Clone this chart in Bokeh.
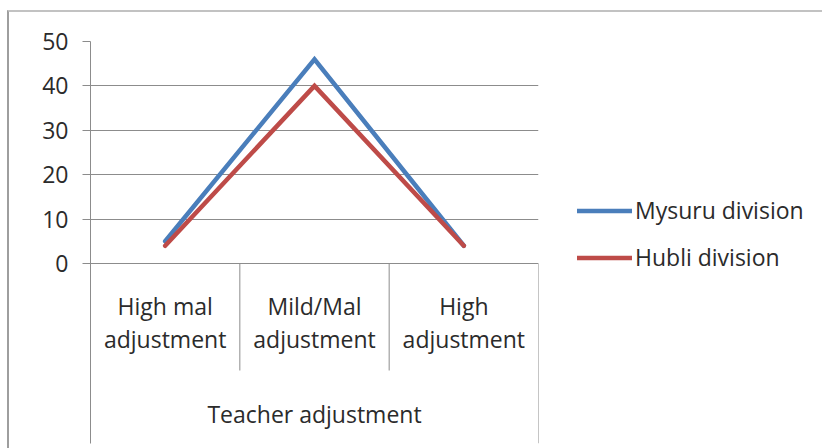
from bokeh.plotting import figure
from bokeh.models import Range1d, FixedTicker, ColumnDataSource, Legend, LegendItem
from bokeh.core.properties import value
from bokeh.embed import file_html
from bokeh.resources import INLINE

# Data
categories = ["High mal adjustment", "Mild/Mal adjustment", "High adjustment"]
group_label = "Teacher adjustment"
mysuru = [5, 46, 4]
hubli = [4, 40, 4]
y_ticks = [0, 10, 20, 30, 40, 50]
series_names = ["Mysuru division", "Hubli division"]

FONT = "Open Sans"
TEXT_COLOR = "#2b2b2b"
GRID = "#8c8c8c"
BLUE = "#4A7EBB"
RED = "#BE4B48"

n = len(categories)
xs = [i + 0.5 for i in range(n)]

p = figure(frame_width=448, frame_height=402,
           x_range=Range1d(0, n), y_range=Range1d(-40.54, 50),
           output_backend="svg", toolbar_location=None,
           x_axis_location=None,
           min_border_left=81, min_border_right=284,
           min_border_top=29, min_border_bottom=5)
p.margin = (10, 0, 0, 7)
p.styles = {"border-left": "2px solid #9e9e9e", "border-top": "2px solid #c2c2c2"}
p.outline_line_color = None
p.background_fill_color = "white"
p.border_fill_color = "white"

# value axis
yax = p.yaxis[0]
yax.ticker = FixedTicker(ticks=y_ticks)
yax.axis_line_color = GRID
yax.major_tick_line_color = GRID
yax.major_tick_out = 8
yax.major_tick_in = 0
yax.minor_tick_line_color = None
yax.major_label_text_font = FONT
yax.major_label_text_font_size = "23px"
yax.major_label_text_color = TEXT_COLOR
yax.major_label_standoff = 14

p.xgrid.visible = False
p.ygrid.ticker = FixedTicker(ticks=y_ticks)
p.ygrid.grid_line_color = GRID
p.ygrid.grid_line_width = 1

# category separators below the zero line
y_bottom = p.y_range.start
inner_end = -24.1
sep_x = list(range(1, n)) + [n]
sep_y1 = [inner_end] * (n - 1) + [y_bottom]
p.segment(x0=sep_x, y0=[0] * n, x1=sep_x, y1=sep_y1, line_color=GRID, line_width=1)

# category labels (two lines each)
first = [c.rsplit(" ", 1)[0] for c in categories]
second = [c.rsplit(" ", 1)[1] for c in categories]
lbl = dict(text_align="center", text_baseline="middle", text_font=value(FONT),
           text_font_size="23px", text_color=TEXT_COLOR)
p.text(x=xs, y=[-9.5] * n, text=first, **lbl)
p.text(x=xs, y=[-16.9] * n, text=second, **lbl)
p.text(x=[n / 2], y=[-33.8], text=[group_label], **lbl)

# series
src = ColumnDataSource(dict(x=xs, mysuru=mysuru, hubli=hubli))
r1 = p.line("x", "mysuru", source=src, line_color=BLUE, line_width=4.5,
            line_join="miter", line_cap="round")
r2 = p.line("x", "hubli", source=src, line_color=RED, line_width=4.5,
            line_join="miter", line_cap="round")

legend = Legend(items=[LegendItem(label=series_names[0], renderers=[r1]),
                       LegendItem(label=series_names[1], renderers=[r2])],
                location=(39, 170))
legend.border_line_color = None
legend.background_fill_alpha = 0
legend.padding = 0
legend.margin = 0
legend.glyph_width = 55
legend.glyph_height = 25
legend.label_height = 25
legend.spacing = 15
legend.label_standoff = 3
legend.label_text_font = FONT
legend.label_text_font_size = "23px"
legend.label_text_color = TEXT_COLOR
p.add_layout(legend, "right")

open("out.html", "w").write(file_html(p, INLINE))
